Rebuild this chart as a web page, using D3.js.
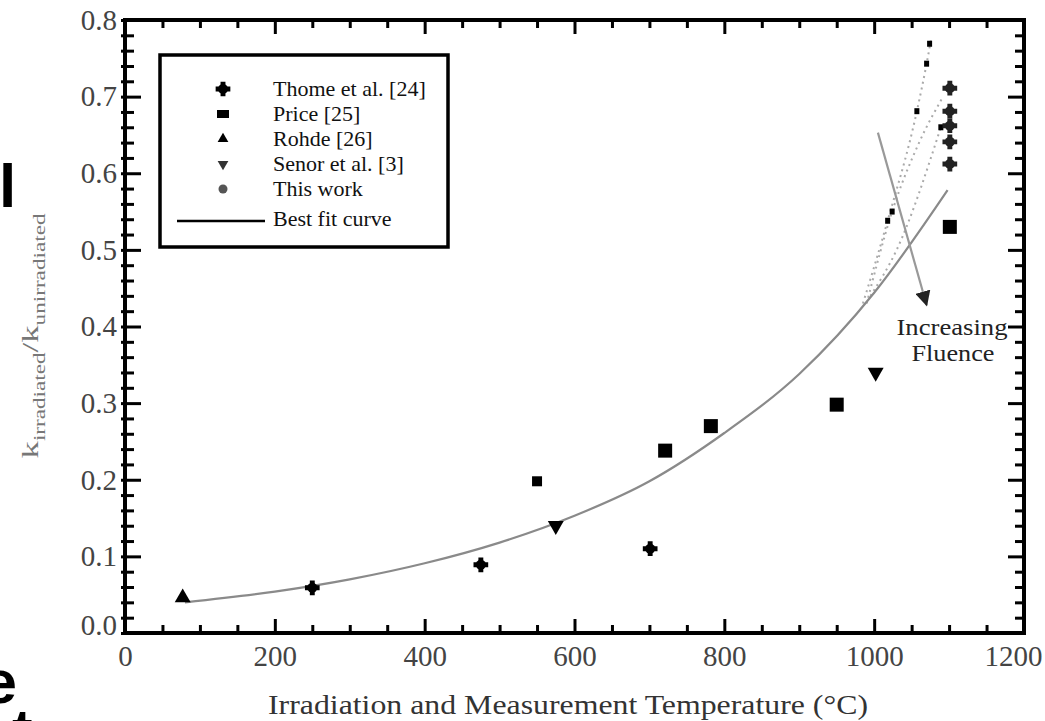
<!DOCTYPE html>
<html>
<head>
<meta charset="utf-8">
<script src="https://cdn.jsdelivr.net/npm/d3@7"></script>
<style>
  html, body { margin: 0; padding: 0; background: #fff; overflow: hidden; }
  svg { display: block; }
</style>
</head>
<body>
<script>
// values
const xTicks = [0, 200, 400, 600, 800, 1000, 1200];
const yTicks = [0.0, 0.1, 0.2, 0.3, 0.4, 0.5, 0.6, 0.7, 0.8];

const thome = [[250, 0.059], [475, 0.089], [701, 0.11]];
const price = [[550, 0.198], [721, 0.238], [782, 0.27], [950, 0.298], [1101, 0.53]];
const rohde = [[77, 0.046]];
const senor = [[575, 0.14], [1002, 0.34]];
const thisWork = [[1101, 0.711], [1101, 0.681], [1101, 0.662], [1101, 0.641], [1101, 0.612]];

const bestFit = [
  [80, 0.040], [200, 0.054], [300, 0.070], [400, 0.091], [500, 0.118],
  [600, 0.153], [700, 0.198], [800, 0.261], [900, 0.338], [1000, 0.444], [1098, 0.578]
];

// extrapolated curves for higher fluence
const fluenceLines = [
  [[985, 0.43], [1018, 0.538], [1057, 0.681], [1070, 0.743], [1076, 0.775]],
  [[990, 0.43], [1024, 0.55], [1060, 0.64], [1092, 0.70]],
  [[995, 0.44], [1030, 0.50], [1089, 0.66]]
];
const fluencePts = [[1074, 0.769], [1070, 0.743], [1057, 0.681], [1089, 0.660], [1024, 0.550], [1018, 0.538]];
const arrowFrom = [1005, 0.653];
const arrowTo = [1070, 0.428];

const legendItems = ["Thome et al. [24]", "Price [25]", "Rohde [26]", "Senor et al. [3]", "This work", "Best fit curve"];

const W = 1045, H = 721;
const pLeft = 125, pRight = 1024, pTop = 20, pBottom = 633;

const svg = d3.select("body").append("svg").attr("width", W).attr("height", H);

const x = d3.scaleLinear().domain([0, 1200]).range([pLeft, pRight]);
const y = d3.scaleLinear().domain([0, 0.8]).range([pBottom, pTop]);

const xMinor = d3.range(0, 1201, 50).filter(d => d % 200 !== 0);
const yMinor = d3.range(0, 41).map(i => i * 0.02).filter((d, i) => i % 5 !== 0);

const serif = "'Liberation Serif', 'Times New Roman', serif";

// axes: ticks point inwards
function styleAxis(g) {
  g.select(".domain").remove();
  g.selectAll(".tick line").attr("stroke", "#000").attr("stroke-width", 3);
  g.selectAll(".tick text")
    .attr("font-family", serif)
    .attr("font-size", 29)
    .attr("fill", "#444");
}

svg.append("g").attr("transform", `translate(0,${pBottom})`)
  .call(d3.axisBottom(x).tickValues(xTicks).tickSize(-14).tickPadding(12).tickFormat(d3.format("d")))
  .call(styleAxis)
  .selectAll(".tick text")
  .filter(d => d === 1200)
  .attr("text-anchor", "end")
  .attr("x", 18);
svg.append("g").attr("transform", `translate(0,${pBottom})`)
  .call(d3.axisBottom(x).tickValues(xMinor).tickSize(-8).tickFormat(""))
  .call(styleAxis);
svg.append("g").attr("transform", `translate(0,${pTop})`)
  .call(d3.axisTop(x).tickValues(xTicks).tickSize(-14).tickFormat(""))
  .call(styleAxis);
svg.append("g").attr("transform", `translate(0,${pTop})`)
  .call(d3.axisTop(x).tickValues(xMinor).tickSize(-8).tickFormat(""))
  .call(styleAxis);

svg.append("g").attr("transform", `translate(${pLeft},0)`)
  .call(d3.axisLeft(y).tickValues(yTicks).tickSize(-16).tickPadding(8).tickFormat(d3.format(".1f")))
  .call(styleAxis);
svg.append("g").attr("transform", `translate(${pLeft},0)`)
  .call(d3.axisLeft(y).tickValues(yMinor).tickSize(-9).tickFormat(""))
  .call(styleAxis);
svg.append("g").attr("transform", `translate(${pLeft},0)`)
  .call(d3.axisLeft(y).tickValues(yTicks.concat(yMinor)).tickSize(4).tickFormat(""))
  .call(styleAxis);
svg.append("g").attr("transform", `translate(${pRight},0)`)
  .call(d3.axisRight(y).tickValues(yTicks).tickSize(-16).tickFormat(""))
  .call(styleAxis);
svg.append("g").attr("transform", `translate(${pRight},0)`)
  .call(d3.axisRight(y).tickValues(yMinor).tickSize(-9).tickFormat(""))
  .call(styleAxis);

svg.selectAll("text").filter(function () { return this.textContent === "0.0"; }).attr("dy", "0.05em");

// frame
svg.append("rect")
  .attr("x", pLeft).attr("y", pTop)
  .attr("width", pRight - pLeft).attr("height", pBottom - pTop)
  .attr("fill", "none").attr("stroke", "#000").attr("stroke-width", 4);

// curves
const line = d3.line().x(d => x(d[0])).y(d => y(d[1])).curve(d3.curveMonotoneX);

svg.selectAll(".fluence")
  .data(fluenceLines)
  .enter()
  .append("path")
  .attr("d", line)
  .attr("fill", "none")
  .attr("stroke", "#aaa")
  .attr("stroke-width", 2)
  .attr("stroke-dasharray", "2,4");

svg.append("path")
  .attr("d", line(bestFit))
  .attr("fill", "none")
  .attr("stroke", "#8a8a8a")
  .attr("stroke-width", 2.2);

svg.selectAll(".fpt")
  .data(fluencePts)
  .enter()
  .append("rect")
  .attr("x", d => x(d[0]) - 2.5)
  .attr("y", d => y(d[1]) - 3)
  .attr("width", 5).attr("height", 6)
  .attr("fill", "#000");

// arrow
svg.append("defs").append("marker")
  .attr("id", "head")
  .attr("viewBox", "0 0 10 10")
  .attr("refX", 9).attr("refY", 5)
  .attr("markerWidth", 7).attr("markerHeight", 7)
  .attr("orient", "auto")
  .append("path").attr("d", "M0,0 L10,5 L0,10 z").attr("fill", "#222");

svg.append("line")
  .attr("x1", x(arrowFrom[0])).attr("y1", y(arrowFrom[1]))
  .attr("x2", x(arrowTo[0])).attr("y2", y(arrowTo[1]))
  .attr("stroke", "#999").attr("stroke-width", 2.2)
  .attr("marker-end", "url(#head)");

svg.append("text")
  .attr("x", 952).attr("y", 335)
  .attr("text-anchor", "middle")
  .attr("font-family", serif).attr("font-size", 23).attr("fill", "#222")
  .attr("textLength", 111).attr("lengthAdjust", "spacingAndGlyphs")
  .text("Increasing");
svg.append("text")
  .attr("x", 953).attr("y", 361)
  .attr("text-anchor", "middle")
  .attr("font-family", serif).attr("font-size", 23).attr("fill", "#222")
  .attr("textLength", 83).attr("lengthAdjust", "spacingAndGlyphs")
  .text("Fluence");

// markers
function thomeMark(g, cx, cy, fill) {
  g.append("circle").attr("cx", cx).attr("cy", cy).attr("r", 5).attr("fill", fill);
  g.append("path").attr("transform", `translate(${cx},${cy})`)
    .attr("d", d3.symbol(d3.symbolCross, 120)()).attr("fill", fill);
}

const marks = svg.append("g");
thome.forEach(d => thomeMark(marks, x(d[0]), y(d[1]), "#000"));
thisWork.forEach(d => thomeMark(marks, x(d[0]), y(d[1]), "#222"));

marks.selectAll(".price")
  .data(price)
  .enter()
  .append("rect")
  .attr("x", (d, i) => x(d[0]) - (i === 0 ? 5 : 7))
  .attr("y", (d, i) => y(d[1]) - (i === 0 ? 5 : 7))
  .attr("width", (d, i) => (i === 0 ? 10 : 14))
  .attr("height", (d, i) => (i === 0 ? 10 : 14))
  .attr("fill", "#000");

marks.selectAll(".rohde")
  .data(rohde)
  .enter()
  .append("path")
  .attr("transform", d => `translate(${x(d[0])},${y(d[1])})`)
  .attr("d", d3.symbol(d3.symbolTriangle, 110)())
  .attr("fill", "#000");

marks.selectAll(".senor")
  .data(senor)
  .enter()
  .append("path")
  .attr("transform", d => `translate(${x(d[0])},${y(d[1])}) rotate(180)`)
  .attr("d", d3.symbol(d3.symbolTriangle, 110)())
  .attr("fill", "#000");

// legend
const lg = svg.append("g");
lg.append("rect")
  .attr("x", 160).attr("y", 55).attr("width", 288).attr("height", 192)
  .attr("fill", "#fff").attr("stroke", "#000").attr("stroke-width", 3.5);

const rowY = [89, 114, 139, 164, 189, 219];
const mx = 223;
thomeMark(lg, mx, rowY[0], "#000");
lg.append("rect").attr("x", mx - 6).attr("y", rowY[1] - 4).attr("width", 12).attr("height", 8).attr("fill", "#000");
lg.append("path").attr("transform", `translate(${mx},${rowY[2]})`)
  .attr("d", d3.symbol(d3.symbolTriangle, 50)()).attr("fill", "#000");
lg.append("path").attr("transform", `translate(${mx},${rowY[3]}) rotate(180)`)
  .attr("d", d3.symbol(d3.symbolTriangle, 50)()).attr("fill", "#333");
lg.append("circle").attr("cx", mx).attr("cy", rowY[4]).attr("r", 4.5).attr("fill", "#555");
lg.append("line").attr("x1", 177).attr("x2", 265).attr("y1", rowY[5] + 2).attr("y2", rowY[5] + 2)
  .attr("stroke", "#000").attr("stroke-width", 2.5);

lg.selectAll(".lt")
  .data(legendItems)
  .enter()
  .append("text")
  .attr("x", 273)
  .attr("y", (d, i) => rowY[i] + 7)
  .attr("font-family", serif)
  .attr("font-size", 22)
  .attr("fill", "#111")
  .text(d => d);

// axis titles
svg.append("text")
  .attr("x", 568).attr("y", 714)
  .attr("text-anchor", "middle")
  .attr("font-family", serif).attr("font-size", 28).attr("fill", "#333")
  .attr("textLength", 600).attr("lengthAdjust", "spacingAndGlyphs")
  .text("Irradiation and Measurement Temperature (°C)");

const yt = svg.append("text")
  .attr("transform", "translate(38,336) rotate(-90)")
  .attr("text-anchor", "middle")
  .attr("font-family", serif).attr("font-size", 24).attr("fill", "#777")
  .attr("textLength", 245).attr("lengthAdjust", "spacingAndGlyphs");
yt.append("tspan").text("k");
yt.append("tspan").attr("font-size", 16).attr("dy", 7).text("irradiated");
yt.append("tspan").attr("dy", -7).text("/k");
yt.append("tspan").attr("font-size", 16).attr("dy", 7).text("unirradiated");

// fragments of slide text cropped at the left edge
const sans = "'Liberation Sans', Arial, sans-serif";
svg.append("text").attr("x", -1).attr("y", 207)
  .attr("font-family", sans).attr("font-weight", "bold").attr("font-size", 62).attr("fill", "#000")
  .text("l");
svg.append("text").attr("x", 17).attr("y", 703).attr("text-anchor", "end")
  .attr("font-family", sans).attr("font-weight", "bold").attr("font-size", 62).attr("fill", "#000")
  .text("e");
svg.append("text").attr("x", 12).attr("y", 752)
  .attr("font-family", sans).attr("font-weight", "bold").attr("font-size", 62).attr("fill", "#000")
  .text("t");
</script>
</body>
</html>
